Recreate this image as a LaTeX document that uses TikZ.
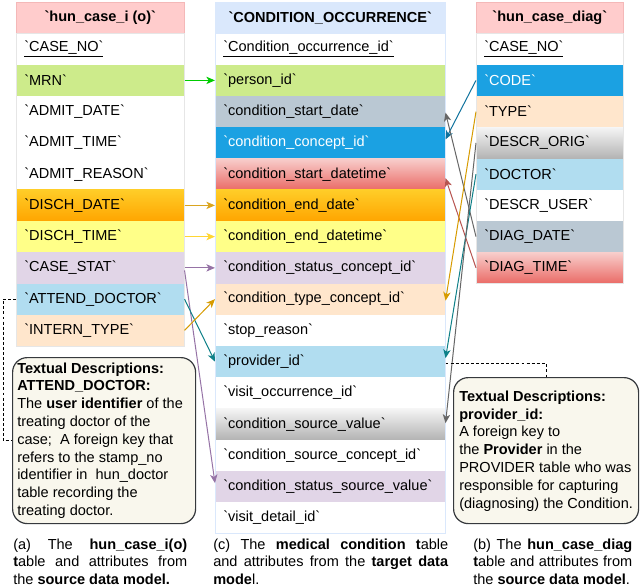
\documentclass[tikz,border=0pt]{standalone}
\usepackage{fontspec}
\setmainfont{Liberation Sans}[Ligatures=TeXOff]
\usetikzlibrary{arrows.meta,calc}
\newdimen\pxu \pxu=0.75pt
\newcommand\rowfont{\fontsize{10.9pt}{13pt}\selectfont}
\newcommand\descfont{\fontsize{10.9pt}{13.35pt}\selectfont}
\newcommand\capfont{\fontsize{10.9pt}{13.1pt}\selectfont}
\definecolor{hdrpink}{HTML}{FFCCCC}
\definecolor{hdrpinkline}{HTML}{F4B8B8}
\definecolor{hdrblue}{HTML}{DAE8FC}
\definecolor{cgreen}{HTML}{CDEB8B}
\definecolor{cgraybl}{HTML}{BAC8D3}
\definecolor{cblue}{HTML}{1BA1E2}
\definecolor{credtop}{HTML}{F8CECC}
\definecolor{credbot}{HTML}{EA6B66}
\definecolor{corgtop}{HTML}{FFCD28}
\definecolor{corgbot}{HTML}{FFA500}
\definecolor{cyellow}{HTML}{FFFF88}
\definecolor{cpurple}{HTML}{E1D5E7}
\definecolor{clblue}{HTML}{B1DDF0}
\definecolor{cpeach}{HTML}{FFE6CC}
\definecolor{cgraytop}{HTML}{F5F5F5}
\definecolor{cgraybot}{HTML}{B3B3B3}
\definecolor{boxfill}{HTML}{F9F7ED}
\definecolor{boxline}{HTML}{36393D}
\definecolor{tabgray}{HTML}{E6E6E6}
\definecolor{agreen}{HTML}{00CC00}
\definecolor{agold}{HTML}{DAA520}
\definecolor{ayellow}{HTML}{FFD633}
\definecolor{aorange}{HTML}{D79B00}
\definecolor{apurple}{HTML}{9673A6}
\definecolor{ateal}{HTML}{0E8088}
\definecolor{ablue}{HTML}{10739E}
\definecolor{agray}{HTML}{666666}
\definecolor{ared}{HTML}{B85450}
\tikzset{
  row/.style={inner xsep=8\pxu, inner ysep=0pt, minimum height=31.25\pxu,
    anchor=north west, align=left, font=\rowfont, fill=white},
  lrow/.style={row, text width=152\pxu},
  mrow/.style={row, text width=214\pxu},
  rrow/.style={row, text width=131\pxu},
  hdr/.style={inner sep=0pt, minimum height=31.25\pxu, anchor=north west,
    font=\rowfont\bfseries},
  redgrad/.style={top color=credtop, bottom color=credbot},
  orggrad/.style={top color=corgtop, bottom color=corgbot},
  graygrad/.style={top color=cgraytop, bottom color=cgraybot},
  conn/.style={line width=0.75pt, -{Stealth[length=6.5pt,width=5.5pt,inset=1.8pt]}},
  dashconn/.style={line width=0.6pt, dash pattern=on 2.2pt off 1.6pt, black},
  descbox/.style={draw=boxline, fill=boxfill, line width=0.9pt, rounded corners=11pt,
    inner sep=0pt, anchor=north west},
  desctext/.style={inner sep=0pt, anchor=west, align=left, font=\descfont},
  captext/.style={inner sep=0pt, anchor=west, align=left, font=\capfont},
}
\begin{document}
\begin{tikzpicture}[x=0.75pt,y=-0.75pt]
\useasboundingbox[fill=white] (0,0) rectangle (640,586);

% ---------- left table ----------
\node[hdr, minimum width=168\pxu, fill=hdrpink, draw=hdrpinkline, line width=0.4pt] (lhdr) at (16,2) {`hun\_case\_i (o)`};
\node[lrow] (lcase) at (16,33.25) {\underline{`CASE\_NO`}};
\node[lrow, fill=cgreen] (lmrn) at (16,64.5) {`MRN`};
\node[lrow] (ladate) at (16,95.75) {`ADMIT\_DATE`};
\node[lrow] (latime) at (16,127) {`ADMIT\_TIME`};
\node[lrow] (lareason) at (16,158.25) {`ADMIT\_REASON`};
\node[lrow, orggrad] (lddate) at (16,189.5) {`DISCH\_DATE`};
\node[lrow, fill=cyellow] (ldtime) at (16,220.75) {`DISCH\_TIME`};
\node[lrow, fill=cpurple] (lstat) at (16,252) {`CASE\_STAT`};
\node[lrow, fill=clblue] (ladoc) at (16,283.25) {`ATTEND\_DOCTOR`};
\node[lrow, fill=cpeach] (ltype) at (16,314.5) {`INTERN\_TYPE`};
\draw[tabgray, line width=0.5pt] (lhdr.south west) rectangle (ltype.south east);

% ---------- middle table ----------
\node[hdr, minimum width=230\pxu, fill=hdrblue] (mhdr) at (215,2) {`CONDITION\_OCCURRENCE`};
\node[mrow] (mcoid) at (215,33.25) {\underline{`Condition\_occurrence\_id`}};
\node[mrow, fill=cgreen] (mpid) at (215,64.5) {`person\_id`};
\node[mrow, fill=cgraybl] (msdate) at (215,95.75) {`condition\_start\_date`};
\node[mrow, fill=cblue, text=white] (mcid) at (215,127) {`condition\_concept\_id`};
\node[mrow, redgrad] (msdt) at (215,158.25) {`condition\_start\_datetime`};
\node[mrow, orggrad] (medate) at (215,189.5) {`condition\_end\_date`};
\node[mrow, fill=cyellow] (medt) at (215,220.75) {`condition\_end\_datetime`};
\node[mrow, fill=cpurple] (mscid) at (215,252) {`condition\_status\_concept\_id`};
\node[mrow, fill=cpeach] (mtcid) at (215,283.25) {`condition\_type\_concept\_id`};
\node[mrow] (mstop) at (215,314.5) {`stop\_reason`};
\node[mrow, fill=clblue] (mprov) at (215,345.75) {`provider\_id`};
\node[mrow] (mvoid) at (215,377) {`visit\_occurrence\_id`};
\node[mrow, graygrad] (msv) at (215,408.25) {`condition\_source\_value`};
\node[mrow] (mscoid) at (215,439.5) {`condition\_source\_concept\_id`};
\node[mrow, fill=cpurple] (mssv) at (215,470.75) {`condition\_status\_source\_value`};
\node[mrow] (mvdid) at (215,502) {`visit\_detail\_id`};
\draw[hdrblue, line width=0.5pt] (mhdr.north west) rectangle (mvdid.south east);

% ---------- right table ----------
\node[hdr, minimum width=147\pxu, fill=hdrpink, draw=hdrpinkline, line width=0.4pt] (rhdr) at (476,2) {`hun\_case\_diag`};
\node[rrow] (rcase) at (476,33.25) {\underline{`CASE\_NO`}};
\node[rrow, fill=cblue, text=white] (rcode) at (476,64.5) {`CODE`};
\node[rrow, fill=cpeach] (rtype) at (476,95.75) {`TYPE`};
\node[rrow, graygrad] (rdorig) at (476,127) {`DESCR\_ORIG`};
\node[rrow, fill=clblue] (rdoc) at (476,158.25) {`DOCTOR`};
\node[rrow] (rduser) at (476,189.5) {`DESCR\_USER`};
\node[rrow, fill=cgraybl] (rddate) at (476,220.75) {`DIAG\_DATE`};
\node[rrow, redgrad] (rdtime) at (476,252) {`DIAG\_TIME`};
\draw[tabgray, line width=0.5pt] (rhdr.south west) rectangle (rdtime.south east);

% ---------- connectors left -> middle ----------
\draw[conn, agreen] (lmrn.east) -- (mpid.west);
\draw[conn, agold] (lddate.east) -- (medate.west);
\draw[conn, ayellow] (ldtime.east) -- (medt.west);
\draw[conn, apurple] (lstat.east) -- (mscid.west);
\draw[conn, apurple] ([yshift=-2.5\pxu]lstat.east) -- ([yshift=3.5\pxu]mssv.west);
\draw[conn, ateal] (ladoc.east) -- (mprov.west);
\draw[conn, aorange] (ltype.east) -- (mtcid.west);

% ---------- connectors right -> middle ----------
\draw[conn, ablue] (rcode.west) -- ([yshift=3.5\pxu]mcid.east);
\draw[conn, agray] (rddate.west) -- ([yshift=-1\pxu]msdate.east);
\draw[conn, ared] (rdtime.west) -- ([yshift=-4\pxu]msdt.east);
\draw[conn, aorange] (rtype.west) -- ([yshift=-1.5\pxu]mtcid.east);
\draw[conn, ateal] (rdoc.west) -- ([yshift=3.5\pxu]mprov.east);
\draw[conn, agray] (rdorig.west) -- ([yshift=1\pxu]msv.east);

% ---------- description boxes ----------
\node[descbox, minimum width=183\pxu, minimum height=166\pxu] (lbox) at (12,357) {};
\node[desctext] (ltext) at (17,440.5) {\textbf{Textual Descriptions:}\\
\textbf{ATTEND\_DOCTOR:}\\
The \textbf{user identifier} of the\\
treating doctor of the\\
case;\ \ A foreign key that\\
refers to the stamp\_no\\
identifier in\ \ hun\_doctor\\
table recording the\\
treating doctor.};

\node[descbox, minimum width=185\pxu, minimum height=146\pxu] (rbox) at (453,377) {};
\node[desctext] (rtext) at (459,451) {\textbf{Textual Descriptions:}\\
\textbf{provider\_id:}\\
A foreign key to\\
the \textbf{Provider} in the\\
PROVIDER table who was\\
responsible for capturing\\
(diagnosing) the Condition.};

\draw[dashconn] (ladoc.west) -- ++(-13,0) |- (lbox.west);
\draw[dashconn] ([yshift=-2\pxu]mprov.east) -| (rbox.north);

% ---------- captions ----------
\node[captext] (capa) at (13,561.5) {\makebox[174\pxu][s]{(a) The \textbf{hun\_case\_i(o)}}\\
\makebox[174\pxu][s]{\textbf{t}able and attributes from}\\
the \textbf{source data model.}};
\node[captext] (capc) at (213,561.5) {\makebox[235\pxu][s]{(c) The \textbf{medical condition t}able}\\
\makebox[235\pxu][s]{and attributes from the \textbf{target data}}\\
\textbf{mode}l.};
\node[captext] (capb) at (473,561.5) {\makebox[159\pxu][s]{(b) The \textbf{hun\_case\_diag}}\\
\makebox[159\pxu][s]{\textbf{t}able and attributes from}\\
the \textbf{source data model}.};
\end{tikzpicture}
\end{document}
